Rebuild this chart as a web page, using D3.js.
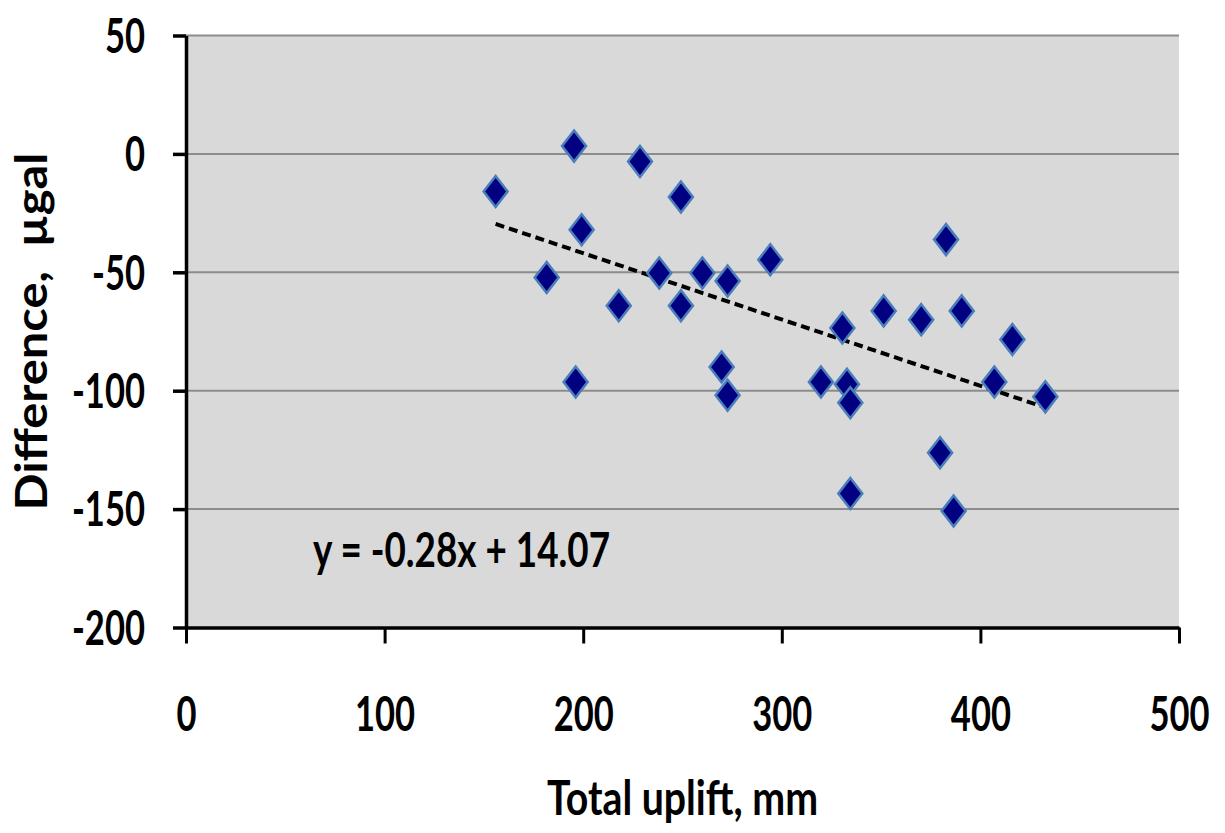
<!DOCTYPE html>
<html lang="en">
<head>
	<meta charset="UTF-8">
	<title>Difference vs total uplift</title>
	<script src="https://cdn.jsdelivr.net/npm/d3@7"></script>
	<style>
		body {
			margin: 0;
			background-color: #ffffff;
		}
		text {
			font-family: Lato, "Open Sans", sans-serif;
			font-weight: 700;
			fill: #000000;
		}
		.axis path, .axis line {
			stroke: #000000;
		}
	</style>
</head>
<body>
<script>

	// values
	var upliftMm = [155.9, 195.4, 228.6, 199.2, 181.6, 217.9, 238.3, 249.2, 260.0, 272.7,
		294.2, 249.2, 382.7, 351.3, 370.2, 390.6, 416.1, 196.2, 269.7, 272.7,
		319.7, 332.8, 334.5, 334.5, 330.5, 407.0, 432.7, 379.7, 386.5];
	var differenceUgal = [-15.9, 3.3, -3.2, -32.0, -52.2, -64.1, -50.3, -18.2, -50.3, -53.7,
		-44.7, -64.1, -36.2, -66.3, -70.0, -66.3, -78.4, -96.3, -90.0, -101.9,
		-96.3, -97.3, -105.1, -143.4, -73.5, -96.3, -102.6, -126.2, -150.8];

	var xTicks = [0, 100, 200, 300, 400, 500];
	var yTicks = [-200, -150, -100, -50, 0, 50];

	var trendSlope = -0.28;
	var trendIntercept = 14.07;
	var trendLabel = 'y = -0.28x + 14.07';

	var xTitle = 'Total uplift, mm';
	var yTitle = 'Difference,  \u00b5gal';

	var width = 1225, height = 833;
	var plot = {left: 186, right: 1179, top: 35.5, bottom: 627.5};
	var squeeze = 0.72;   // the picture is narrower than the font

	var data = upliftMm.map(function (d, i) {
		return {x: d, y: differenceUgal[i]};
	});

	// plain hyphen for negatives, like the original
	var plainFormat = function (d) { return String(d); };

	var svg = d3.select('body').append('svg')
		.attr('width', width)
		.attr('height', height);

	var x = d3.scaleLinear()
		.domain([0, 500])
		.range([plot.left, plot.right]);

	var y = d3.scaleLinear()
		.domain([-200, 50])
		.range([plot.bottom, plot.top]);

	svg.append('rect')
		.attr('x', plot.left)
		.attr('y', plot.top)
		.attr('width', plot.right - plot.left)
		.attr('height', plot.bottom - plot.top)
		.style('fill', '#d9d9d9');

	// gridlines
	svg.append('g')
		.selectAll('line')
		.data(yTicks.filter(function (d) { return d > -200; }))
		.enter()
		.append('line')
		.attr('x1', plot.left)
		.attr('x2', plot.right)
		.attr('y1', function (d) { return y(d); })
		.attr('y2', function (d) { return y(d); })
		.style('stroke', '#8c8c8c')
		.style('stroke-width', 2);

	// trend line
	var xExtent = d3.extent(upliftMm);
	svg.append('line')
		.attr('x1', x(xExtent[0]))
		.attr('y1', y(trendSlope * xExtent[0] + trendIntercept))
		.attr('x2', x(xExtent[1]))
		.attr('y2', y(trendSlope * xExtent[1] + trendIntercept))
		.style('stroke', '#000000')
		.style('stroke-width', 4)
		.style('stroke-dasharray', '9,5');

	// diamonds
	var diamond = 'M0,-15.5L12,0L0,15.5L-12,0Z';
	svg.selectAll('.dot')
		.data(data)
		.enter()
		.append('path')
		.attr('class', 'dot')
		.attr('d', diamond)
		.attr('transform', function (d) {
			return 'translate(' + x(d.x) + ',' + y(d.y) + ')';
		})
		.style('fill', '#000080')
		.style('stroke', '#4a7ebb')
		.style('stroke-width', 2.5);

	// axes
	var yAxis = svg.append('g')
		.attr('class', 'axis')
		.attr('transform', 'translate(' + plot.left + ',0)')
		.call(d3.axisLeft(y).tickValues(yTicks).tickFormat(plainFormat)
			.tickSize(13).tickSizeOuter(0));

	yAxis.select('.domain').style('stroke-width', 3.5);
	yAxis.selectAll('.tick line').style('stroke-width', 3.5);
	yAxis.selectAll('.tick text')
		.attr('x', 0)
		.attr('dy', '0.35em')
		.attr('transform', 'translate(-41,0) scale(' + squeeze + ',1)')
		.style('font-size', '48px');

	var xAxis = svg.append('g')
		.attr('class', 'axis')
		.attr('transform', 'translate(0,' + plot.bottom + ')')
		.call(d3.axisBottom(x).tickValues(xTicks).tickFormat(plainFormat)
			.tickSize(16).tickSizeOuter(0));

	xAxis.select('.domain').style('stroke-width', 3.5);
	xAxis.selectAll('.tick line').style('stroke-width', 3);
	xAxis.selectAll('.tick text')
		.attr('y', 0)
		.attr('dy', 0)
		.attr('transform', 'translate(0,103) scale(' + squeeze + ',1)')
		.style('font-size', '48px');

	// texts
	svg.append('text')
		.attr('x', x(250))
		.attr('y', 815)
		.attr('text-anchor', 'middle')
		.attr('textLength', 271)
		.attr('lengthAdjust', 'spacingAndGlyphs')
		.style('font-size', '48px')
		.text(xTitle);

	svg.append('text')
		.attr('transform', 'translate(47,' + (plot.top + plot.bottom) / 2 + ') rotate(-90)')
		.attr('text-anchor', 'middle')
		.attr('textLength', 358)
		.attr('lengthAdjust', 'spacingAndGlyphs')
		.style('font-size', '44px')
		.style('white-space', 'pre')
		.text(yTitle);

	svg.append('text')
		.attr('x', 313)
		.attr('y', 567)
		.attr('textLength', 297)
		.attr('lengthAdjust', 'spacingAndGlyphs')
		.style('font-size', '48px')
		.text(trendLabel);

</script>
</body>
</html>
